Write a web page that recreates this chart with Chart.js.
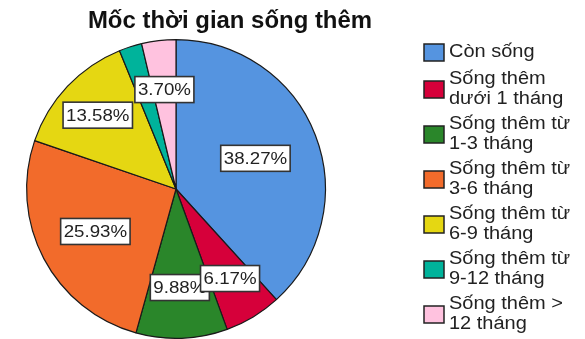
<!DOCTYPE html>
<html>
<head>
<meta charset="utf-8">
<script src="https://cdn.jsdelivr.net/npm/chart.js@4.4.1/dist/chart.umd.min.js"></script>
<style>
  html, body { margin: 0; padding: 0; background: #fff; }
  #wrap { width: 585px; height: 339px; position: relative; }
</style>
</head>
<body>
<div id="wrap"><canvas id="pieChart" width="585" height="339"></canvas></div>
<script>
const categories = [
  ['Còn sống'],
  ['Sống thêm', 'dưới 1 tháng'],
  ['Sống thêm từ', '1-3 tháng'],
  ['Sống thêm từ', '3-6 tháng'],
  ['Sống thêm từ', '6-9 tháng'],
  ['Sống thêm từ', '9-12 tháng'],
  ['Sống thêm >', '12 tháng']
];
const percents = [38.27, 6.17, 9.88, 25.93, 13.58, 2.47, 3.70];
const showLabel = [true, true, true, true, true, false, true];
const chartTitle = 'Mốc thời gian sống thêm';

const colors = ['#5594e0', '#d6003a', '#2a862a', '#f26b2b', '#e5d712', '#00b39b', '#ffc2df'];
// how far out (fraction of radius) each value box sits
const labelDist = [0.57, 0.70, 0.66, 0.61, 0.72, 0.6, 0.67];

const FONT = '"Liberation Sans", Arial, sans-serif';

// the source image is a bit stretched sideways, so text gets a x-scale
function wideText(ctx, txt, x, y, sx) {
  ctx.save();
  ctx.translate(x, y);
  ctx.scale(sx, 1);
  ctx.fillText(txt, 0, 0);
  ctx.restore();
}

const extras = {
  id: 'extras',
  afterDraw(chart) {
    const ctx = chart.ctx;
    const meta = chart.getDatasetMeta(0);
    ctx.save();

    // title
    ctx.fillStyle = '#111';
    ctx.font = 'bold 23px ' + FONT;
    ctx.textAlign = 'center';
    ctx.textBaseline = 'alphabetic';
    wideText(ctx, chartTitle, 230, 28, 1.04);

    // value boxes, last slice first so 6.17% sits on top of 9.88%
    ctx.font = '17px ' + FONT;
    ctx.textBaseline = 'middle';
    for (let i = meta.data.length - 1; i >= 0; i--) {
      if (!showLabel[i]) continue;
      const arc = meta.data[i];
      const p = arc.getProps(['x', 'y', 'startAngle', 'endAngle', 'outerRadius'], true);
      const mid = (p.startAngle + p.endAngle) / 2;
      const r = p.outerRadius * labelDist[i];
      const cx = p.x + Math.cos(mid) * r;
      const cy = p.y + Math.sin(mid) * r;
      const txt = percents[i].toFixed(2) + '%';
      const w = ctx.measureText(txt).width * 1.1 + 6;
      const h = 26;
      ctx.fillStyle = '#fff';
      ctx.fillRect(cx - w / 2, cy - h / 2, w, h);
      ctx.strokeStyle = '#333';
      ctx.lineWidth = 1.6;
      ctx.strokeRect(cx - w / 2, cy - h / 2, w, h);
      ctx.fillStyle = '#222';
      wideText(ctx, txt, cx, cy + 1, 1.1);
    }

    // legend
    const boxCenters = [52, 89, 134, 179, 224, 269, 314];
    ctx.font = '18px ' + FONT;
    ctx.textAlign = 'left';
    categories.forEach((lines, i) => {
      const yc = boxCenters[i];
      ctx.fillStyle = colors[i];
      ctx.fillRect(424, yc - 8, 20, 17);
      ctx.strokeStyle = '#222';
      ctx.lineWidth = 1.5;
      ctx.strokeRect(424, yc - 8, 20, 17);
      ctx.fillStyle = '#222';
      if (lines.length === 1) {
        wideText(ctx, lines[0], 449, yc, 1.11);
      } else {
        wideText(ctx, lines[0], 449, yc - 10, 1.11);
        wideText(ctx, lines[1], 449, yc + 10, 1.11);
      }
    });
    ctx.restore();
  }
};

new Chart(document.getElementById('pieChart'), {
  type: 'pie',
  data: {
    labels: categories.map(l => l.join(' ')),
    datasets: [{
      data: percents,
      backgroundColor: colors,
      borderColor: '#1a1a1a',
      borderWidth: 1.2
    }]
  },
  options: {
    responsive: false,
    animation: false,
    layout: { padding: { left: 26, right: 259, top: 39, bottom: 0 } },
    plugins: {
      legend: { display: false },
      title: { display: false },
      tooltip: { enabled: false }
    }
  },
  plugins: [extras]
});
</script>
</body>
</html>
